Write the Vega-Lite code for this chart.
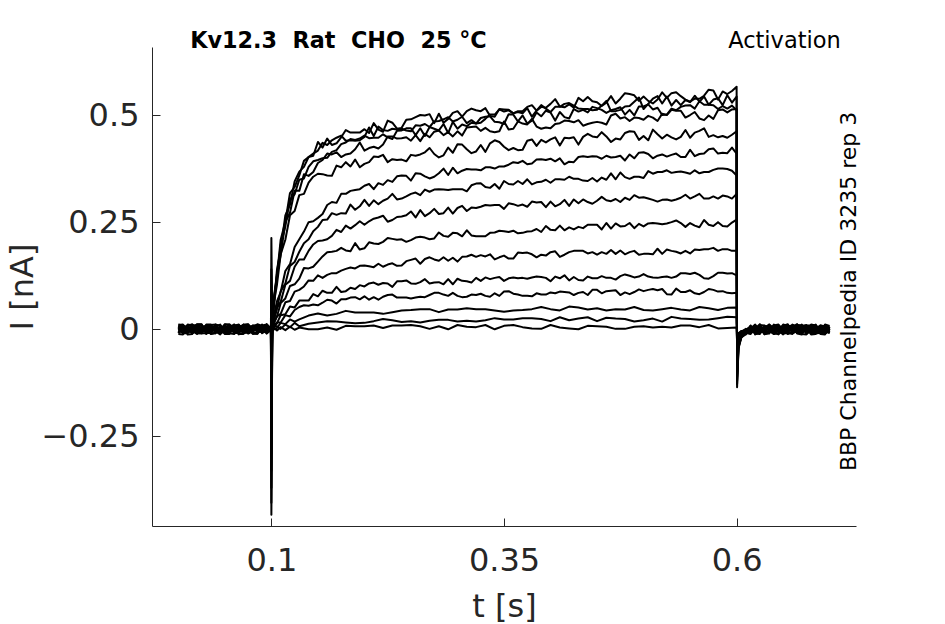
{
  "$schema": "https://vega.github.io/schema/vega-lite/v6.json",
  "width": 704,
  "height": 479,
  "autosize": "none",
  "padding": {"left": 152, "top": 47, "right": 89, "bottom": 98},
  "background": "white",
  "config": {"view": {"stroke": null}, "font": "DejaVu Sans"},
  "layer": [
    {
      "data": {"values": [
        {"t":0,"a":0.005,"b":-0.008,"c":0.009,"d":-0.003,"e":0.002,"f":-0.011,"g":0.006,"h":0,"i":-0.005,"j":0.011,"k":-0.006,"l":0.003,"m":-0.009,"n":0.008,"o":-0.002},
        {"t":0.005,"a":-0.009,"b":0.006,"c":0.011,"d":-0.004,"e":0.002,"f":-0.012,"g":0.008,"h":0.003,"i":-0.007,"j":0.01,"k":-0.002,"l":-0.009,"m":0.005,"n":0.001,"o":0.007},
        {"t":0.01,"a":-0.009,"b":0.003,"c":-0.002,"d":0.011,"e":-0.006,"f":0.005,"g":-0.012,"h":0.008,"i":0.002,"j":-0.003,"k":0.009,"l":-0.008,"m":0.005,"n":-0.002,"o":0.006},
        {"t":0.015,"a":0.007,"b":-0.01,"c":-0.003,"d":0.009,"e":-0.006,"f":0.004,"g":-0.011,"h":0.012,"i":0.002,"j":-0.005,"k":0.008,"l":0,"m":-0.008,"n":0.01,"o":-0.004},
        {"t":0.02,"a":0.008,"b":0.011,"c":-0.009,"d":-0.005,"e":0.009,"f":0,"g":0.003,"h":-0.009,"i":0.012,"j":-0.006,"k":-0.002,"l":0.006,"m":-0.003,"n":0.009,"o":-0.011},
        {"t":0.025,"a":-0.002,"b":0.011,"c":-0.008,"d":0.001,"e":0.009,"f":-0.006,"g":0.003,"h":-0.01,"i":0.012,"j":-0.001,"k":-0.007,"l":0.005,"m":0.006,"n":-0.009,"o":0.002},
        {"t":0.03,"a":-0.003,"b":-0.006,"c":0.006,"d":0.008,"e":-0.011,"f":0.009,"g":-0.002,"h":0.005,"i":-0.008,"j":0.002,"k":0.011,"l":-0.005,"m":0.008,"n":-0.009,"o":0.003},
        {"t":0.035,"a":0.01,"b":-0.004,"c":0.006,"d":-0.011,"e":-0.003,"f":0.008,"g":-0.001,"h":0.005,"i":-0.009,"j":0.003,"k":0.011,"l":-0.006,"m":-0.002,"n":0.007,"o":-0.01},
        {"t":0.04,"a":0.011,"b":0.002,"c":-0.005,"d":-0.009,"e":0.005,"f":-0.003,"g":0.009,"h":-0.006,"i":0.003,"j":0.008,"k":-0.009,"l":0.011,"m":0,"n":0.005,"o":-0.008},
        {"t":0.045,"a":-0.008,"b":0.003,"c":-0.012,"d":0.006,"e":0.011,"f":-0.002,"g":0.009,"h":-0.007,"i":0.001,"j":-0.01,"k":0.004,"l":0.008,"m":-0.005,"n":-0.003,"o":0.006},
        {"t":0.05,"a":-0.006,"b":0.009,"c":0.003,"d":0.002,"e":-0.008,"f":0.011,"g":-0.005,"h":0.009,"i":-0.011,"j":-0.002,"k":0.005,"l":-0.003,"m":0.012,"n":-0.006,"o":0.002},
        {"t":0.055,"a":0.005,"b":-0.009,"c":0.002,"d":0.01,"e":-0.007,"f":0.012,"g":-0.005,"h":0,"i":-0.011,"j":0.006,"k":-0.003,"l":-0.008,"m":0.009,"n":0.004,"o":-0.001},
        {"t":0.06,"a":0.002,"b":-0.011,"c":0.011,"d":0.006,"e":0.003,"f":-0.008,"g":0.008,"h":-0.003,"i":0.006,"j":-0.009,"k":0,"l":0.009,"m":-0.006,"n":0.011,"o":-0.005},
        {"t":0.065,"a":-0.011,"b":0.008,"c":-0.001,"d":-0.006,"e":0.004,"f":-0.009,"g":0.011,"h":-0.003,"i":0.007,"j":-0.008,"k":0.002,"l":0.01,"m":-0.004,"n":-0.012,"o":0.005},
        {"t":0.07,"a":-0.011,"b":0.005,"c":-0.008,"d":-0.002,"e":0.011,"f":0.003,"g":-0.009,"h":0.011,"i":-0.003,"j":0.006,"k":-0.005,"l":0.002,"m":0.009,"n":-0.008,"o":0.008},
        {"t":0.075,"a":0.003,"b":-0.006,"c":0.009,"d":0.005,"e":-0.01,"f":0.001,"g":-0.007,"h":0.011,"i":-0.004,"j":0.009,"k":-0.009,"l":-0.002,"m":0.012,"n":0.006,"o":-0.008},
        {"t":0.08,"a":0.006,"b":-0.003,"c":0.005,"d":-0.011,"e":-0.005,"f":0.008,"g":0.002,"h":-0.008,"i":0.009,"j":-0.005,"k":0.008,"l":-0.009,"m":-0.002,"n":0.003,"o":-0.003},
        {"t":0.085,"a":-0.006,"b":0.012,"c":-0.005,"d":-0.009,"e":0.007,"f":-0.003,"g":0.004,"h":-0.008,"i":0.01,"j":0,"k":0.007,"l":-0.011,"m":-0.001,"n":0.008,"o":0.003},
        {"t":0.09,"a":-0.005,"b":0.008,"c":-0.006,"d":0.009,"e":0.008,"f":-0.006,"g":0.005,"h":0.002,"i":-0.009,"j":0.011,"k":-0.008,"l":0.005,"m":0.003,"n":-0.005,"o":0.009},
        {"t":0.095,"a":0.009,"b":-0.002,"c":0.004,"d":0.002,"e":-0.005,"f":0.007,"g":-0.009,"h":0.006,"i":-0.003,"j":-0.007,"k":0.012,"l":0.003,"m":-0.01,"n":-0.006,"o":0.011},
        {"t":0.0995,"a":0.002,"b":-0.001,"c":0.001,"d":-0.003,"e":0,"f":0.003,"g":-0.002,"h":0.004,"i":-0.001,"j":0,"k":0.002,"l":-0.004,"m":0.001,"n":0,"o":-0.002},
        {"t":0.1,"a":-0.433,"b":-0.405,"c":-0.37,"d":-0.33,"e":-0.29,"f":-0.24,"g":-0.2,"h":-0.15,"i":-0.11,"j":0.213,"k":-0.07,"l":0.14,"m":-0.05,"n":0.08,"o":-0.03},
        {"t":0.101,"a":0.03,"b":0.02,"c":0.028,"d":0.019,"e":0.025,"f":0.014,"g":0.006,"h":0.011,"i":0.003,"j":0.008,"k":0,"l":0.005,"m":-0.002,"n":0.004,"o":-0.003},
        {"t":0.103,"a":0.08,"b":0.064,"c":0.075,"d":0.06,"e":0.066,"f":0.035,"g":0.024,"h":0.027,"i":0.015,"j":0.018,"k":0.005,"l":0.01,"m":0,"n":0.006,"o":0.003},
        {"t":0.106,"a":0.125,"b":0.139,"c":0.119,"d":0.13,"e":0.104,"f":0.065,"g":0.048,"h":0.05,"i":0.03,"j":0.03,"k":0.014,"l":0.016,"m":0.003,"n":0.007,"o":-0.003},
        {"t":0.11,"a":0.209,"b":0.186,"c":0.197,"d":0.173,"e":0.175,"f":0.087,"g":0.089,"h":0.064,"i":0.061,"j":0.036,"k":0.033,"l":0.016,"m":0.015,"n":0.001,"o":0.005},
        {"t":0.115,"a":0.251,"b":0.266,"c":0.24,"d":0.25,"e":0.209,"f":0.136,"g":0.107,"h":0.104,"i":0.072,"j":0.063,"k":0.035,"l":0.033,"m":0.012,"n":0.011,"o":-0.002},
        {"t":0.12,"a":0.318,"b":0.291,"c":0.303,"d":0.272,"e":0.266,"f":0.152,"g":0.148,"h":0.113,"i":0.101,"j":0.066,"k":0.053,"l":0.03,"m":0.023,"n":0.005,"o":0.006},
        {"t":0.125,"a":0.332,"b":0.345,"c":0.315,"d":0.324,"e":0.276,"f":0.192,"g":0.157,"h":0.146,"i":0.105,"j":0.088,"k":0.051,"l":0.045,"m":0.018,"n":0.015,"o":-0.001},
        {"t":0.13,"a":0.359,"b":0.368,"c":0.349,"d":0.323,"e":0.313,"f":0.21,"g":0.181,"h":0.163,"i":0.118,"j":0.092,"k":0.067,"l":0.052,"m":0.023,"n":0.007,"o":0.004},
        {"t":0.135,"a":0.393,"b":0.379,"c":0.352,"d":0.362,"e":0.316,"f":0.228,"g":0.201,"h":0.163,"i":0.143,"j":0.1,"k":0.067,"l":0.056},
        {"t":0.14,"a":0.402,"b":0.402,"c":0.379,"d":0.358,"e":0.342,"f":0.25,"g":0.21,"h":0.183,"i":0.142,"j":0.114,"k":0.067,"l":0.055,"m":0.032,"n":0.013,"o":0},
        {"t":0.145,"a":0.405,"b":0.41,"c":0.392,"d":0.367,"e":0.356,"f":0.252,"g":0.229,"h":0.198,"i":0.146,"j":0.113,"k":0.082,"l":0.058},
        {"t":0.15,"a":0.437,"b":0.417,"c":0.395,"d":0.388,"e":0.363,"f":0.26,"g":0.239,"h":0.206,"i":0.158,"j":0.126,"k":0.077,"l":0.056,"m":0.037,"n":0.016,"o":0},
        {"t":0.155,"a":0.424,"b":0.435,"c":0.399,"d":0.395,"e":0.362,"f":0.269,"g":0.255,"h":0.207,"i":0.17,"j":0.12,"k":0.09,"l":0.062},
        {"t":0.16,"a":0.445,"b":0.43,"c":0.4,"d":0.41,"e":0.359,"f":0.29,"g":0.256,"h":0.21,"i":0.18,"j":0.127,"k":0.085,"l":0.069,"m":0.032,"n":0.019,"o":0.004},
        {"t":0.165,"a":0.43,"b":0.441,"c":0.414,"d":0.408,"e":0.358,"f":0.297,"g":0.271,"h":0.218,"i":0.181,"j":0.131,"k":0.085,"l":0.067},
        {"t":0.17,"a":0.434,"b":0.447,"c":0.418,"d":0.413,"e":0.382,"f":0.295,"g":0.267,"h":0.232,"i":0.183,"j":0.131,"k":0.099,"l":0.06,"m":0.036,"n":0.018,"o":-0.001},
        {"t":0.175,"a":0.448,"b":0.452,"c":0.432,"d":0.402,"e":0.378,"f":0.316,"g":0.271,"h":0.227,"i":0.19,"j":0.137,"k":0.087,"l":0.07},
        {"t":0.18,"a":0.465,"b":0.44,"c":0.436,"d":0.408,"e":0.39,"f":0.316,"g":0.27,"h":0.242,"i":0.184,"j":0.141,"k":0.089,"l":0.07,"m":0.043,"n":0.016,"o":0.008},
        {"t":0.185,"a":0.459,"b":0.441,"c":0.444,"d":0.41,"e":0.38,"f":0.323,"g":0.291,"h":0.235,"i":0.182,"j":0.144,"k":0.097,"l":0.074},
        {"t":0.19,"a":0.459,"b":0.44,"c":0.442,"d":0.42,"e":0.396,"f":0.325,"g":0.279,"h":0.243,"i":0.201,"j":0.142,"k":0.094,"l":0.075,"m":0.039,"n":0.014,"o":0.007},
        {"t":0.195,"a":0.459,"b":0.441,"c":0.445,"d":0.436,"e":0.378,"f":0.327,"g":0.287,"h":0.252,"i":0.186,"j":0.148,"k":0.103,"l":0.07},
        {"t":0.2,"a":0.467,"b":0.449,"c":0.452,"d":0.417,"e":0.386,"f":0.335,"g":0.302,"h":0.244,"i":0.189,"j":0.149,"k":0.1,"l":0.077,"m":0.039,"n":0.015,"o":0.007},
        {"t":0.205,"a":0.458,"b":0.471,"c":0.446,"d":0.423,"e":0.39,"f":0.339,"g":0.288,"h":0.252,"i":0.203,"j":0.147,"k":0.107,"l":0.069},
        {"t":0.21,"a":0.481,"b":0.451,"c":0.447,"d":0.426,"e":0.403,"f":0.327,"g":0.301,"h":0.258,"i":0.2,"j":0.145,"k":0.109,"l":0.075,"m":0.039,"n":0.019,"o":0.009},
        {"t":0.215,"a":0.466,"b":0.473,"c":0.447,"d":0.422,"e":0.402,"f":0.341,"g":0.292,"h":0.261,"i":0.199,"j":0.153,"k":0.104,"l":0.069},
        {"t":0.22,"a":0.461,"b":0.465,"c":0.455,"d":0.431,"e":0.407,"f":0.337,"g":0.3,"h":0.265,"i":0.204,"j":0.146,"k":0.108,"l":0.076,"m":0.036,"n":0.024,"o":0.003},
        {"t":0.225,"a":0.487,"b":0.463,"c":0.448,"d":0.45,"e":0.39,"f":0.348,"g":0.305,"h":0.251,"i":0.213,"j":0.151,"k":0.107,"l":0.08},
        {"t":0.23,"a":0.482,"b":0.468,"c":0.444,"d":0.45,"e":0.397,"f":0.344,"g":0.316,"h":0.255,"i":0.211,"j":0.154,"k":0.099,"l":0.081,"m":0.04,"n":0.021,"o":0.009},
        {"t":0.235,"a":0.468,"b":0.466,"c":0.463,"d":0.445,"e":0.395,"f":0.357,"g":0.303,"h":0.262,"i":0.209,"j":0.148,"k":0.112,"l":0.074},
        {"t":0.24,"a":0.47,"b":0.468,"c":0.464,"d":0.446,"e":0.396,"f":0.359,"g":0.305,"h":0.263,"i":0.21,"j":0.149,"k":0.112,"l":0.074,"m":0.044,"n":0.017,"o":0.009},
        {"t":0.245,"a":0.489,"b":0.464,"c":0.469,"d":0.448,"e":0.392,"f":0.358,"g":0.31,"h":0.266,"i":0.204,"j":0.159,"k":0.114,"l":0.074},
        {"t":0.25,"a":0.49,"b":0.462,"c":0.469,"d":0.44,"e":0.407,"f":0.347,"g":0.316,"h":0.275,"i":0.208,"j":0.162,"k":0.107,"l":0.072,"m":0.045,"n":0.019,"o":0.01},
        {"t":0.255,"a":0.495,"b":0.476,"c":0.453,"d":0.453,"e":0.405,"f":0.364,"g":0.319,"h":0.261,"i":0.214,"j":0.165,"k":0.106,"l":0.074},
        {"t":0.26,"a":0.5,"b":0.475,"c":0.469,"d":0.439,"e":0.408,"f":0.363,"g":0.313,"h":0.278,"i":0.216,"j":0.153,"k":0.11,"l":0.076,"m":0.047,"n":0.016,"o":0.007},
        {"t":0.265,"a":0.499,"b":0.479,"c":0.451,"d":0.456,"e":0.413,"f":0.357,"g":0.326,"h":0.264,"i":0.214,"j":0.164,"k":0.117,"l":0.075},
        {"t":0.27,"a":0.502,"b":0.472,"c":0.472,"d":0.448,"e":0.423,"f":0.352,"g":0.321,"h":0.271,"i":0.21,"j":0.168,"k":0.107,"l":0.08,"m":0.047,"n":0.02,"o":0.001},
        {"t":0.275,"a":0.481,"b":0.485,"c":0.468,"d":0.461,"e":0.409,"f":0.356,"g":0.326,"h":0.281,"i":0.212,"j":0.163,"k":0.109,"l":0.085},
        {"t":0.28,"a":0.503,"b":0.486,"c":0.464,"d":0.464,"e":0.401,"f":0.364,"g":0.327,"h":0.269,"i":0.226,"j":0.16,"k":0.11,"l":0.085,"m":0.04,"n":0.022,"o":0.007},
        {"t":0.285,"a":0.482,"b":0.49,"c":0.479,"d":0.453,"e":0.406,"f":0.375,"g":0.326,"h":0.271,"i":0.218,"j":0.168,"k":0.105,"l":0.081},
        {"t":0.29,"a":0.491,"b":0.495,"c":0.458,"d":0.46,"e":0.424,"f":0.36,"g":0.325,"h":0.284,"i":0.216,"j":0.16,"k":0.117,"l":0.078,"m":0.046,"n":0.022,"o":0},
        {"t":0.295,"a":0.505,"b":0.485,"c":0.484,"d":0.45,"e":0.412,"f":0.377,"g":0.327,"h":0.27,"i":0.225,"j":0.167,"k":0.105,"l":0.085},
        {"t":0.3,"a":0.509,"b":0.489,"c":0.468,"d":0.462,"e":0.432,"f":0.364,"g":0.327,"h":0.283,"i":0.224,"j":0.158,"k":0.118,"l":0.078,"m":0.046,"n":0.018,"o":0.01},
        {"t":0.305,"a":0.496,"b":0.496,"c":0.478,"d":0.452,"e":0.431,"f":0.37,"g":0.327,"h":0.288,"i":0.217,"j":0.169,"k":0.113,"l":0.075},
        {"t":0.31,"a":0.509,"b":0.481,"c":0.474,"d":0.471,"e":0.42,"f":0.374,"g":0.322,"h":0.276,"i":0.231,"j":0.17,"k":0.112,"l":0.076,"m":0.049,"n":0.02,"o":0.006},
        {"t":0.315,"a":0.515,"b":0.488,"c":0.482,"d":0.472,"e":0.411,"f":0.373,"g":0.336,"h":0.284,"i":0.219,"j":0.174,"k":0.109,"l":0.081},
        {"t":0.32,"a":0.511,"b":0.48,"c":0.48,"d":0.473,"e":0.415,"f":0.373,"g":0.34,"h":0.283,"i":0.217,"j":0.169,"k":0.12,"l":0.08,"m":0.047,"n":0.018,"o":0.005},
        {"t":0.325,"a":0.509,"b":0.482,"c":0.493,"d":0.463,"e":0.43,"f":0.371,"g":0.341,"h":0.286,"i":0.217,"j":0.173,"k":0.113,"l":0.083},
        {"t":0.33,"a":0.516,"b":0.491,"c":0.496,"d":0.47,"e":0.414,"f":0.378,"g":0.332,"h":0.29,"i":0.217,"j":0.17,"k":0.121,"l":0.078,"m":0.047,"n":0.021,"o":0.01},
        {"t":0.335,"a":0.498,"b":0.501,"c":0.497,"d":0.462,"e":0.434,"f":0.378,"g":0.33,"h":0.289,"i":0.225,"j":0.175,"k":0.117,"l":0.076},
        {"t":0.34,"a":0.496,"b":0.501,"c":0.484,"d":0.46,"e":0.441,"f":0.375,"g":0.339,"h":0.29,"i":0.226,"j":0.163,"k":0.12,"l":0.084,"m":0.044,"n":0.026,"o":0},
        {"t":0.345,"a":0.514,"b":0.513,"c":0.483,"d":0.462,"e":0.437,"f":0.38,"g":0.328,"h":0.29,"i":0.23,"j":0.168,"k":0.122,"l":0.078},
        {"t":0.35,"a":0.513,"b":0.508,"c":0.479,"d":0.485,"e":0.426,"f":0.38,"g":0.346,"h":0.281,"i":0.229,"j":0.172,"k":0.113,"l":0.088,"m":0.041,"n":0.023,"o":0.008},
        {"t":0.355,"a":0.512,"b":0.511,"c":0.502,"d":0.466,"e":0.418,"f":0.384,"g":0.339,"h":0.294,"i":0.227,"j":0.165,"k":0.119,"l":0.089},
        {"t":0.36,"a":0.504,"b":0.504,"c":0.501,"d":0.468,"e":0.423,"f":0.39,"g":0.338,"h":0.292,"i":0.23,"j":0.165,"k":0.121,"l":0.083,"m":0.044,"n":0.023,"o":0.01},
        {"t":0.365,"a":0.509,"b":0.507,"c":0.485,"d":0.485,"e":0.418,"f":0.388,"g":0.346,"h":0.288,"i":0.224,"j":0.179,"k":0.119,"l":0.081},
        {"t":0.37,"a":0.509,"b":0.504,"c":0.499,"d":0.48,"e":0.419,"f":0.393,"g":0.339,"h":0.291,"i":0.225,"j":0.178,"k":0.12,"l":0.078,"m":0.045,"n":0.026,"o":0.005},
        {"t":0.375,"a":0.519,"b":0.516,"c":0.48,"d":0.478,"e":0.44,"f":0.385,"g":0.35,"h":0.286,"i":0.228,"j":0.179,"k":0.118,"l":0.078},
        {"t":0.38,"a":0.523,"b":0.496,"c":0.487,"d":0.491,"e":0.443,"f":0.387,"g":0.338,"h":0.298,"i":0.229,"j":0.175,"k":0.121,"l":0.077,"m":0.047,"n":0.026,"o":0.002},
        {"t":0.385,"a":0.51,"b":0.51,"c":0.506,"d":0.473,"e":0.428,"f":0.396,"g":0.343,"h":0.296,"i":0.234,"j":0.168,"k":0.123,"l":0.084},
        {"t":0.39,"a":0.519,"b":0.523,"c":0.497,"d":0.468,"e":0.442,"f":0.397,"g":0.344,"h":0.297,"i":0.227,"j":0.174,"k":0.122,"l":0.081,"m":0.052,"n":0.024,"o":0.001},
        {"t":0.395,"a":0.517,"b":0.515,"c":0.51,"d":0.471,"e":0.436,"f":0.395,"g":0.349,"h":0.285,"i":0.241,"j":0.172,"k":0.12,"l":0.081},
        {"t":0.4,"a":0.526,"b":0.507,"c":0.506,"d":0.469,"e":0.443,"f":0.398,"g":0.342,"h":0.298,"i":0.232,"j":0.18,"k":0.112,"l":0.086,"m":0.047,"n":0.019,"o":0.01},
        {"t":0.405,"a":0.537,"b":0.519,"c":0.487,"d":0.479,"e":0.448,"f":0.392,"g":0.35,"h":0.287,"i":0.231,"j":0.182,"k":0.123,"l":0.084},
        {"t":0.41,"a":0.52,"b":0.519,"c":0.507,"d":0.481,"e":0.429,"f":0.399,"g":0.35,"h":0.292,"i":0.242,"j":0.169,"k":0.119,"l":0.088,"m":0.044,"n":0.028,"o":0.004},
        {"t":0.415,"a":0.518,"b":0.526,"c":0.495,"d":0.487,"e":0.447,"f":0.385,"g":0.349,"h":0.302,"i":0.231,"j":0.174,"k":0.126,"l":0.087},
        {"t":0.42,"a":0.525,"b":0.528,"c":0.492,"d":0.486,"e":0.446,"f":0.391,"g":0.356,"h":0.288,"i":0.238,"j":0.18,"k":0.114,"l":0.086,"m":0.053,"n":0.021,"o":0.002},
        {"t":0.425,"a":0.517,"b":0.522,"c":0.514,"d":0.483,"e":0.448,"f":0.39,"g":0.351,"h":0.303,"i":0.233,"j":0.183,"k":0.122,"l":0.08},
        {"t":0.43,"a":0.54,"b":0.515,"c":0.508,"d":0.488,"e":0.431,"f":0.402,"g":0.351,"h":0.294,"i":0.239,"j":0.183,"k":0.115,"l":0.085,"m":0.051,"n":0.025,"o":0},
        {"t":0.435,"a":0.532,"b":0.514,"c":0.512,"d":0.475,"e":0.449,"f":0.404,"g":0.347,"h":0.303,"i":0.236,"j":0.183,"k":0.114,"l":0.087},
        {"t":0.44,"a":0.542,"b":0.514,"c":0.506,"d":0.479,"e":0.456,"f":0.402,"g":0.346,"h":0.297,"i":0.244,"j":0.177,"k":0.123,"l":0.08,"m":0.046,"n":0.028,"o":0.008},
        {"t":0.445,"a":0.532,"b":0.511,"c":0.519,"d":0.482,"e":0.45,"f":0.404,"g":0.353,"h":0.293,"i":0.244,"j":0.18,"k":0.119,"l":0.092},
        {"t":0.45,"a":0.53,"b":0.512,"c":0.516,"d":0.484,"e":0.448,"f":0.403,"g":0.345,"h":0.3,"i":0.244,"j":0.174,"k":0.119,"l":0.092,"m":0.049,"n":0.019,"o":0.007},
        {"t":0.455,"a":0.521,"b":0.522,"c":0.512,"d":0.482,"e":0.46,"f":0.398,"g":0.354,"h":0.309,"i":0.233,"j":0.18,"k":0.124,"l":0.084},
        {"t":0.46,"a":0.529,"b":0.533,"c":0.505,"d":0.478,"e":0.45,"f":0.405,"g":0.349,"h":0.301,"i":0.248,"j":0.176,"k":0.12,"l":0.089,"m":0.044,"n":0.027,"o":0.006},
        {"t":0.465,"a":0.544,"b":0.509,"c":0.511,"d":0.499,"e":0.437,"f":0.401,"g":0.364,"h":0.299,"i":0.235,"j":0.185,"k":0.12,"l":0.09},
        {"t":0.47,"a":0.527,"b":0.509,"c":0.514,"d":0.503,"e":0.445,"f":0.402,"g":0.35,"h":0.304,"i":0.247,"j":0.176,"k":0.116,"l":0.091,"m":0.047,"n":0.025,"o":0.001},
        {"t":0.475,"a":0.538,"b":0.512,"c":0.518,"d":0.492,"e":0.443,"f":0.405,"g":0.366,"h":0.297,"i":0.24,"j":0.184,"k":0.124,"l":0.08},
        {"t":0.48,"a":0.551,"b":0.52,"c":0.501,"d":0.495,"e":0.458,"f":0.394,"g":0.355,"h":0.307,"i":0.241,"j":0.175,"k":0.128,"l":0.086,"m":0.046,"n":0.024,"o":0.001},
        {"t":0.485,"a":0.549,"b":0.521,"c":0.512,"d":0.486,"e":0.462,"f":0.408,"g":0.351,"h":0.302,"i":0.248,"j":0.18,"k":0.125,"l":0.082},
        {"t":0.49,"a":0.546,"b":0.531,"c":0.499,"d":0.494,"e":0.461,"f":0.399,"g":0.356,"h":0.313,"i":0.236,"j":0.183,"k":0.121,"l":0.087,"m":0.052,"n":0.018,"o":0.006},
        {"t":0.495,"a":0.533,"b":0.541,"c":0.52,"d":0.493,"e":0.442,"f":0.412,"g":0.356,"h":0.307,"i":0.246,"j":0.174,"k":0.123,"l":0.093},
        {"t":0.5,"a":0.543,"b":0.514,"c":0.52,"d":0.489,"e":0.451,"f":0.413,"g":0.353,"h":0.308,"i":0.24,"j":0.176,"k":0.129,"l":0.089,"m":0.045,"n":0.021,"o":0.007},
        {"t":0.505,"a":0.533,"b":0.526,"c":0.525,"d":0.498,"e":0.441,"f":0.409,"g":0.369,"h":0.305,"i":0.247,"j":0.176,"k":0.123,"l":0.092},
        {"t":0.51,"a":0.527,"b":0.538,"c":0.513,"d":0.494,"e":0.466,"f":0.399,"g":0.363,"h":0.302,"i":0.248,"j":0.175,"k":0.121,"l":0.094,"m":0.044,"n":0.025,"o":0.004},
        {"t":0.515,"a":0.536,"b":0.544,"c":0.517,"d":0.486,"e":0.455,"f":0.405,"g":0.367,"h":0.298,"i":0.247,"j":0.188,"k":0.12,"l":0.091},
        {"t":0.52,"a":0.553,"b":0.527,"c":0.5,"d":0.503,"e":0.445,"f":0.408,"g":0.367,"h":0.302,"i":0.245,"j":0.176,"k":0.122,"l":0.094,"m":0.047,"n":0.018,"o":0.006},
        {"t":0.525,"a":0.54,"b":0.543,"c":0.501,"d":0.5,"e":0.454,"f":0.403,"g":0.371,"h":0.303,"i":0.247,"j":0.186,"k":0.123,"l":0.082},
        {"t":0.53,"a":0.551,"b":0.522,"c":0.515,"d":0.512,"e":0.448,"f":0.407,"g":0.365,"h":0.3,"i":0.25,"j":0.183,"k":0.12,"l":0.081,"m":0.05,"n":0.029,"o":0.004},
        {"t":0.535,"a":0.553,"b":0.535,"c":0.511,"d":0.51,"e":0.443,"f":0.41,"g":0.367,"h":0.303,"i":0.254,"j":0.181,"k":0.123,"l":0.095},
        {"t":0.54,"a":0.544,"b":0.523,"c":0.519,"d":0.51,"e":0.449,"f":0.402,"g":0.368,"h":0.307,"i":0.248,"j":0.177,"k":0.131,"l":0.087,"m":0.046,"n":0.025,"o":0.009},
        {"t":0.545,"a":0.536,"b":0.535,"c":0.522,"d":0.494,"e":0.465,"f":0.402,"g":0.366,"h":0.314,"i":0.239,"j":0.183,"k":0.131,"l":0.087},
        {"t":0.55,"a":0.531,"b":0.53,"c":0.523,"d":0.5,"e":0.447,"f":0.419,"g":0.363,"h":0.305,"i":0.248,"j":0.177,"k":0.129,"l":0.091,"m":0.044,"n":0.024,"o":0.009},
        {"t":0.555,"a":0.538,"b":0.545,"c":0.515,"d":0.507,"e":0.459,"f":0.404,"g":0.371,"h":0.31,"i":0.242,"j":0.186,"k":0.132,"l":0.084},
        {"t":0.56,"a":0.538,"b":0.531,"c":0.532,"d":0.492,"e":0.463,"f":0.409,"g":0.364,"h":0.316,"i":0.238,"j":0.185,"k":0.127,"l":0.082,"m":0.052,"n":0.022,"o":0.005},
        {"t":0.565,"a":0.545,"b":0.543,"c":0.524,"d":0.488,"e":0.469,"f":0.41,"g":0.367,"h":0.305,"i":0.255,"j":0.187,"k":0.119,"l":0.087},
        {"t":0.57,"a":0.559,"b":0.524,"c":0.524,"d":0.499,"e":0.449,"f":0.42,"g":0.367,"h":0.305,"i":0.244,"j":0.187,"k":0.118,"l":0.094,"m":0.049,"n":0.023,"o":0.01},
        {"t":0.575,"a":0.557,"b":0.536,"c":0.523,"d":0.491,"e":0.453,"f":0.422,"g":0.372,"h":0.31,"i":0.241,"j":0.19,"k":0.124,"l":0.092},
        {"t":0.58,"a":0.536,"b":0.539,"c":0.514,"d":0.511,"e":0.448,"f":0.41,"g":0.375,"h":0.305,"i":0.25,"j":0.183,"k":0.132,"l":0.088,"m":0.045,"n":0.026,"o":0.002},
        {"t":0.585,"a":0.555,"b":0.523,"c":0.521,"d":0.513,"e":0.451,"f":0.412,"g":0.375,"h":0.312,"i":0.241,"j":0.187,"k":0.132,"l":0.089},
        {"t":0.59,"a":0.549,"b":0.546,"c":0.515,"d":0.506,"e":0.447,"f":0.411,"g":0.374,"h":0.31,"i":0.24,"j":0.187,"k":0.13,"l":0.085,"m":0.05,"n":0.029,"o":0.003},
        {"t":0.595,"a":0.556,"b":0.529,"c":0.522,"d":0.513,"e":0.454,"f":0.424,"g":0.37,"h":0.305,"i":0.249,"j":0.183,"k":0.131,"l":0.084},
        {"t":0.6,"a":0.566,"b":0.543,"c":0.511,"d":0.514,"e":0.462,"f":0.41,"g":0.359,"h":0.316,"i":0.256,"j":0.183,"k":0.126,"l":0.085,"m":0.051,"n":0.028,"o":0.004},
        {"t":0.6005,"a":-0.135,"b":-0.128,"c":-0.12,"d":-0.112,"e":-0.104,"f":-0.095,"g":-0.086,"h":-0.077,"i":-0.068,"j":-0.058,"k":-0.05,"l":-0.044,"m":-0.038,"n":-0.033,"o":-0.028},
        {"t":0.602,"a":-0.045,"b":-0.043,"c":-0.04,"d":-0.038,"e":-0.035,"f":-0.032,"g":-0.029,"h":-0.026,"i":-0.023,"j":-0.02,"k":-0.017,"l":-0.015,"m":-0.013,"n":-0.011,"o":-0.009},
        {"t":0.605,"a":-0.02,"b":-0.018,"c":-0.019,"d":-0.015,"e":-0.016,"f":-0.012,"g":-0.014,"h":-0.01,"i":-0.011,"j":-0.008,"k":-0.009,"l":-0.006,"m":-0.007,"n":-0.004,"o":-0.005},
        {"t":0.61,"a":-0.008,"b":-0.012,"c":-0.005,"d":-0.009,"e":-0.006,"f":-0.01,"g":-0.003,"h":-0.007,"i":-0.002,"j":-0.006,"k":-0.001,"l":-0.004,"m":0.001,"n":-0.005,"o":0},
        {"t":0.615,"a":-0.01,"b":0.004,"c":-0.006,"d":0.009,"e":-0.002,"f":-0.008,"g":0.006,"h":-0.011,"i":0.003,"j":0.001,"k":-0.005,"l":0.008,"m":-0.009,"n":0.002,"o":0.005},
        {"t":0.62,"a":0.005,"b":-0.009,"c":0.003,"d":-0.012,"e":0.008,"f":-0.003,"g":-0.008,"h":0.006,"i":-0.011,"j":0.002,"k":0.009,"l":-0.006,"m":-0.002,"n":0.011,"o":-0.005},
        {"t":0.625,"a":0.006,"b":-0.011,"c":0.008,"d":-0.003,"e":-0.007,"f":0.01,"g":-0.001,"h":0.004,"i":-0.009,"j":0.012,"k":-0.004,"l":-0.006,"m":0.003,"n":-0.008,"o":0},
        {"t":0.63,"a":-0.008,"b":0.006,"c":-0.011,"d":0.002,"e":-0.005,"f":0.009,"g":0,"h":-0.009,"i":0.005,"j":-0.006,"k":-0.003,"l":0.008,"m":-0.012,"n":0.003,"o":0.006},
        {"t":0.635,"a":-0.004,"b":0.009,"c":-0.01,"d":0.005,"e":0.011,"f":-0.002,"g":-0.008,"h":0.007,"i":0.001,"j":-0.006,"k":0.01,"l":-0.001,"m":-0.007,"n":0.011,"o":-0.003},
        {"t":0.64,"a":0.009,"b":-0.002,"c":0.006,"d":-0.008,"e":0.003,"f":-0.011,"g":0.005,"h":0.002,"i":-0.006,"j":0.011,"k":-0.009,"l":0,"m":0.006,"n":-0.005,"o":-0.011},
        {"t":0.645,"a":0.011,"b":-0.003,"c":0.002,"d":-0.009,"e":0,"f":0.006,"g":0.009,"h":-0.005,"i":-0.012,"j":0.004,"k":-0.001,"l":0.007,"m":0.008,"n":-0.004,"o":-0.01},
        {"t":0.65,"a":-0.003,"b":-0.012,"c":0.008,"d":0.005,"e":-0.009,"f":0.002,"g":-0.006,"h":0.011,"i":0,"j":-0.008,"k":0.005,"l":-0.011,"m":0.003,"n":0.008,"o":-0.002},
        {"t":0.655,"a":-0.007,"b":0.005,"c":0.012,"d":0.001,"e":-0.009,"f":-0.011,"g":0.003,"h":0.008,"i":0.006,"j":-0.003,"k":-0.008,"l":-0.004,"m":0.01,"n":0,"o":0.007},
        {"t":0.66,"a":0.006,"b":0.003,"c":-0.009,"d":-0.005,"e":0.011,"f":-0.006,"g":0.009,"h":-0.003,"i":0.008,"j":-0.002,"k":-0.011,"l":0.005,"m":-0.008,"n":0,"o":0.009},
        {"t":0.665,"a":0.002,"b":-0.008,"c":-0.004,"d":0.01,"e":0.006,"f":0.005,"g":-0.01,"h":-0.002,"i":-0.006,"j":0.009,"k":0.003,"l":0.012,"m":-0.005,"n":-0.007,"o":-0.001},
        {"t":0.67,"a":-0.011,"b":0.008,"c":0.002,"d":0.009,"e":-0.003,"f":0.005,"g":-0.012,"h":0,"i":-0.005,"j":0.009,"k":0.003,"l":-0.008,"m":0.011,"n":-0.006,"o":-0.003},
        {"t":0.675,"a":-0.012,"b":0.01,"c":0.005,"d":-0.006,"e":0.003,"f":-0.004,"g":0.007,"h":0.001,"i":0.009,"j":-0.011,"k":0.006,"l":-0.003,"m":-0.002,"n":0.008,"o":0.004},
        {"t":0.68,"a":0.002,"b":-0.005,"c":-0.006,"d":0.003,"e":-0.012,"f":0.011,"g":0.002,"h":-0.008,"i":0.009,"j":-0.003,"k":0.006,"l":0.009,"m":-0.005,"n":-0.009,"o":0.005},
        {"t":0.685,"a":0.008,"b":-0.001,"c":-0.007,"d":0.004,"e":-0.011,"f":0.009,"g":-0.003,"h":-0.009,"i":-0.002,"j":0.005,"k":-0.01,"l":0.006,"m":0.001,"n":-0.005,"o":0.011},
        {"t":0.69,"a":-0.006,"b":0.009,"c":0.005,"d":-0.011,"e":0.006,"f":-0.002,"g":-0.005,"h":0.008,"i":-0.009,"j":0.003,"k":-0.008,"l":0.002,"m":0.009,"n":0.005,"o":-0.006},
        {"t":0.695,"a":-0.003,"b":0.007,"c":0.001,"d":-0.012,"e":0.008,"f":-0.005,"g":0.011,"h":0.003,"i":-0.008,"j":-0.002,"k":0.009,"l":-0.01,"m":0.006,"n":0.004,"o":-0.006},
        {"t":0.7,"a":0.003,"b":-0.003,"c":-0.005,"d":0.006,"e":-0.002,"f":-0.008,"g":0.008,"h":-0.005,"i":0.002,"j":-0.009,"k":0,"l":-0.003,"m":-0.006,"n":0.006,"o":0.002}
      ]},
      "transform": [
        {"fold": ["a","b","c","d","e","f","g","h","i","j","k","l","m","n","o"], "as": ["sweep","I"]},
        {"filter": "isValid(datum.I)"}
      ],
      "mark": {"type": "line", "color": "black", "strokeWidth": 2, "strokeJoin": "round"},
      "encoding": {
        "x": {
          "field": "t", "type": "quantitative",
          "scale": {"domain": [-0.0283, 0.7283], "nice": false, "zero": false},
          "axis": {
            "values": [0.1, 0.35, 0.6], "format": ".2~g",
            "title": "t [s]", "grid": false, "tickSize": -8, "labelPadding": 27, "titlePadding": 15,
            "labelFontSize": 32, "titleFontSize": 32, "titleFontWeight": "normal",
            "labelColor": "#262626", "titleColor": "#262626", "domainColor": "#262626", "tickColor": "#262626",
            "labelFlush": false, "labelOverlap": false
          }
        },
        "y": {
          "field": "I", "type": "quantitative",
          "scale": {"domain": [-0.459, 0.6587], "nice": false, "zero": false},
          "axis": {
            "values": [-0.25, 0, 0.25, 0.5], "format": ".2~g",
            "title": "I [nA]", "grid": false, "tickSize": -8, "labelPadding": 21, "titlePadding": 1,
            "labelFontSize": 32, "titleFontSize": 32, "titleFontWeight": "normal",
            "labelColor": "#262626", "titleColor": "#262626", "domainColor": "#262626", "tickColor": "#262626",
            "labelFlush": false, "labelOverlap": false
          }
        },
        "detail": {"field": "sweep", "type": "nominal"}
      }
    },
    {
      "data": {"values": [{}]},
      "mark": {"type": "text", "text": "Kv12.3\u00a0 Rat\u00a0 CHO\u00a0 25 °C", "fontWeight": "bold", "fontSize": 22.3, "align": "left", "baseline": "alphabetic", "color": "black"},
      "encoding": {"x": {"datum": 0.0127}, "y": {"datum": 0.6563}}
    },
    {
      "data": {"values": [{}]},
      "mark": {"type": "text", "text": "Activation", "fontSize": 22.5, "align": "right", "baseline": "alphabetic", "color": "black"},
      "encoding": {"x": {"datum": 0.712}, "y": {"datum": 0.6563}}
    },
    {
      "data": {"values": [{}]},
      "mark": {"type": "text", "text": "BBP Channelpedia ID 3235 rep 3", "fontSize": 22, "angle": 270, "align": "center", "baseline": "alphabetic", "color": "black"},
      "encoding": {"x": {"datum": 0.728}, "y": {"datum": 0.0883}}
    }
  ]
}
